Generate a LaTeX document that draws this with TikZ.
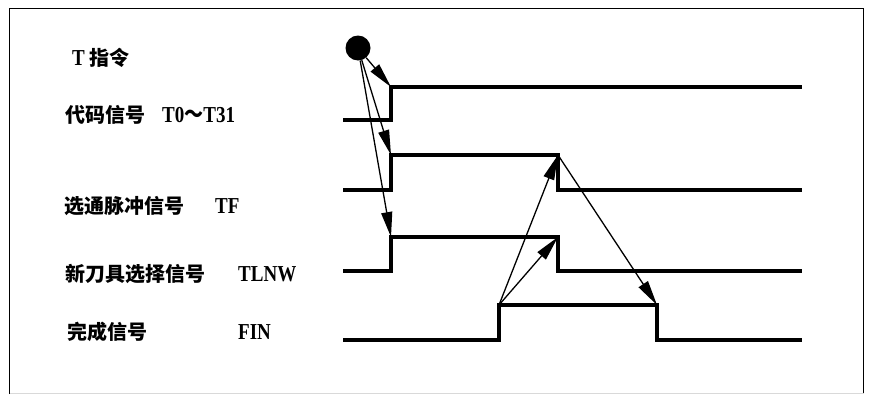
\documentclass[tikz,border=0pt]{standalone}
\usepackage{graphicx}
\usepackage{fontspec}
\setmainfont{Liberation Serif}
\newfontfamily\cjk{Noto Sans CJK SC}
\usetikzlibrary{arrows.meta,positioning,calc}
\newcommand\tallcode[1]{\scalebox{1}[1.2]{#1}}
\tikzset{
  wave/.style={line width=4pt,line join=miter},
  cause/.style={-{Triangle[length=25pt,width=11pt]},line width=1.3pt},
  cmddot/.style={circle,fill=black,inner sep=0pt,minimum size=25pt},
  signame/.style={anchor=base west,inner sep=0pt,font=\fontsize{20}{20}\selectfont\bfseries\cjk},
  sigcode/.style={anchor=base west,inner sep=0pt,font=\fontsize{19}{19}\selectfont\bfseries}
}

\begin{document}
\begin{tikzpicture}[x=1pt,y=-1pt]
  \useasboundingbox (0,0) rectangle (871,394);
  % frame
  \draw[line width=1.5pt] (9.5,394) -- (9.5,8.5) -- (863.5,8.5) -- (863.5,394);
  \draw[black!15,line width=1pt] (9.5,393) -- (863.5,393);
  % labels
  \node[sigcode] (tcmd) at (72,65) {\tallcode{T}\hspace{5pt}{\fontsize{20}{20}\selectfont\cjk 指令}};
  \node[signame] (nm-code) at (65,122) {代码信号};
  \node[sigcode] (cd-code) at (162,122) {\tallcode{T0{\cjk ～}T31}};
  \node[signame] (nm-tf) at (64,213) {选通脉冲信号};
  \node[sigcode] (cd-tf) at (215,213) {\tallcode{TF}};
  \node[signame] (nm-tl) at (65,281) {新刀具选择信号};
  \node[sigcode] (cd-tl) at (238,281) {\tallcode{TLNW}};
  \node[signame] (nm-fin) at (67,339) {完成信号};
  \node[sigcode] (cd-fin) at (238,339) {\tallcode{FIN}};
  % edges
  \coordinate (code-up) at (391,87);
  \coordinate (tf-up) at (391,155);
  \coordinate (tf-dn) at (558,155);
  \coordinate (tl-up) at (391,237);
  \coordinate (tl-dn) at (558,237);
  \coordinate (fin-up) at (499,305);
  \coordinate (fin-dn) at (657,305);
  % waveforms
  \draw[wave] (343,120) -| (code-up) -- (802,87);
  \draw[wave] (343,190) -| (tf-up) -- (tf-dn) |- (802,190);
  \draw[wave] (343,271) -| (tl-up) -- (tl-dn) |- (802,271);
  \draw[wave] (343,340) -| (fin-up) -- (fin-dn) |- (802,340);
  % command dot and arrows
  \node[cmddot] (cmd) at (358,48) {};
  \draw[cause] (cmd) -- (code-up);
  \draw[cause] (cmd) -- (tf-up);
  \draw[cause] (cmd) -- (tl-up);
  \draw[cause] (fin-up) -- (tf-dn);
  \draw[cause] (fin-up) -- (tl-dn);
  \draw[cause] (tf-dn) -- (fin-dn);
\end{tikzpicture}
\end{document}
